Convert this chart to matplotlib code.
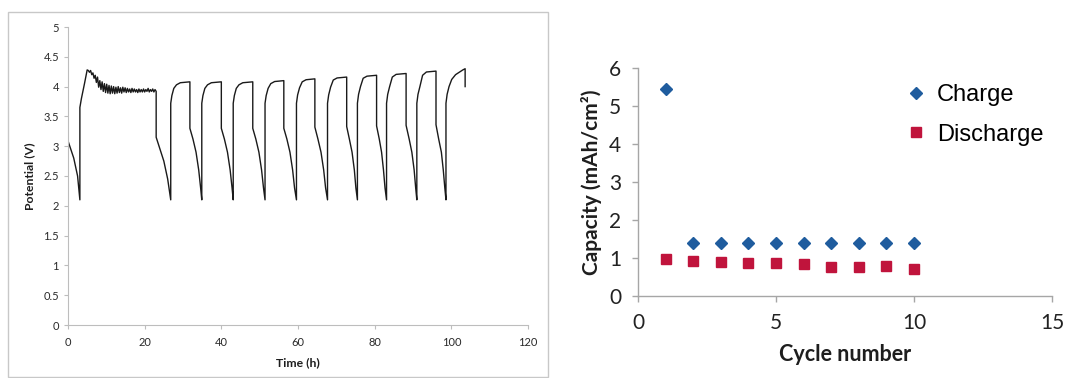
import matplotlib
matplotlib.use("Agg")
import matplotlib.pyplot as plt
from matplotlib.patches import Rectangle

# Potencial x tempo (painel da esquerda)
tempo_h = [
    0.0, 0.05, 1.5, 2.5, 3.1,
    3.1, 3.5, 4.3,
    5.0, 5.3, 5.6, 5.9, 6.2, 6.5, 6.8, 7.1, 7.4, 7.7, 8.0, 8.3, 8.6, 8.9,
    9.2, 9.5, 9.8, 10.1, 10.4, 10.7, 11.0, 11.3, 11.6, 11.9, 12.2, 12.5,
    12.8, 13.1, 13.4, 13.7, 14.0, 14.3, 14.6, 14.9, 15.2, 15.5, 15.8, 16.1,
    16.4, 16.7, 17.0, 17.3, 17.6, 17.9, 18.2, 18.5, 18.8, 19.1, 19.4, 19.7,
    20.0, 20.3, 20.6, 20.9, 21.2, 21.5, 21.8, 22.1, 22.4, 22.7, 23.0,
    23.0, 24.0, 25.0, 26.0,
    26.8, 26.8, 27.1, 27.6, 28.3, 29.3, 31.8, 31.8, 32.6, 33.4, 34.1, 34.6,
    34.9, 34.9, 35.2, 35.7, 36.4, 37.4, 40.0, 40.0, 40.8, 41.6, 42.3, 42.8,
    43.1, 43.1, 43.4, 43.9, 44.6, 45.6, 48.2, 48.2, 49.0, 49.8, 50.5, 51.0,
    51.4, 51.4, 51.7, 52.2, 52.9, 53.9, 56.3, 56.3, 57.1, 57.9, 58.6, 59.1,
    59.6, 59.6, 59.9, 60.4, 61.1, 62.1, 64.4, 64.4, 65.2, 66.0, 66.7, 67.2,
    67.7, 67.7, 68.0, 68.5, 69.2, 70.2, 72.7, 72.7, 73.4, 74.1, 74.7, 75.1,
    75.5, 75.5, 75.8, 76.3, 77.0, 78.0, 80.5, 80.5, 81.2, 81.8, 82.3, 82.7,
    83.1, 83.1, 83.4, 83.9, 84.6, 85.6, 88.2, 88.2, 89.0, 89.7, 90.3, 90.7,
    91.0, 91.0, 91.3, 91.8, 92.5, 93.5, 96.0, 96.0, 96.7, 97.4, 97.9, 98.3,
    98.6, 98.6, 98.9, 99.4, 100.1, 101.1, 103.0, 103.6, 103.6,
]
potencial_v = [
    3.6, 3.08, 2.8, 2.5, 2.1,
    3.65, 3.8, 4.05,
    4.28, 4.27, 4.24, 4.27, 4.20, 4.23, 4.14, 4.19, 4.07, 4.16, 3.99, 4.10,
    3.95, 4.08, 3.92, 4.05, 3.90, 4.04, 3.89, 4.02, 3.88, 4.01, 3.89, 4.00,
    3.88, 3.99, 3.89, 4.00, 3.90, 3.98, 3.89, 3.99, 3.91, 3.98, 3.90, 3.97,
    3.91, 3.96, 3.90, 3.97, 3.91, 3.96, 3.91, 3.95, 3.90, 3.96, 3.91, 3.95,
    3.91, 3.96, 3.91, 3.95, 3.92, 3.97, 3.91, 3.95, 3.92, 3.96, 3.91, 3.95,
    3.92,
    3.15, 2.95, 2.75, 2.45,
    2.1, 3.72, 3.85, 3.97, 4.03, 4.065, 4.08, 3.3, 3.12, 2.9, 2.6, 2.3,
    2.1, 3.72, 3.85, 3.97, 4.03, 4.065, 4.08, 3.3, 3.12, 2.9, 2.6, 2.3,
    2.1, 3.72, 3.85, 3.97, 4.03, 4.065, 4.08, 3.3, 3.12, 2.9, 2.6, 2.3,
    2.1, 3.72, 3.85, 3.97, 4.05, 4.085, 4.10, 3.3, 3.12, 2.9, 2.6, 2.3,
    2.1, 3.72, 3.86, 3.98, 4.08, 4.115, 4.13, 3.32, 3.12, 2.9, 2.6, 2.3,
    2.1, 3.72, 3.86, 3.99, 4.11, 4.145, 4.16, 3.33, 3.12, 2.9, 2.6, 2.3,
    2.1, 3.72, 3.87, 4.0, 4.14, 4.175, 4.19, 3.34, 3.12, 2.9, 2.6, 2.3,
    2.1, 3.72, 3.87, 4.0, 4.16, 4.205, 4.22, 3.35, 3.12, 2.9, 2.6, 2.3,
    2.1, 3.72, 3.87, 4.0, 4.19, 4.245, 4.26, 3.36, 3.12, 2.9, 2.6, 2.3,
    2.1, 3.72, 3.87, 4.0, 4.12, 4.2, 4.28, 4.3, 4.0,
]

# Capacidade por ciclo (painel da direita)
ciclos = [1, 2, 3, 4, 5, 6, 7, 8, 9, 10]
carga = [5.45, 1.4, 1.4, 1.4, 1.4, 1.4, 1.4, 1.4, 1.4, 1.4]
descarga = [0.97, 0.92, 0.90, 0.87, 0.87, 0.84, 0.76, 0.76, 0.79, 0.72]

W, H = 1065, 378
fig = plt.figure(figsize=(W / 100, H / 100), dpi=100)

# moldura cinza do painel da esquerda
fig.patches.append(Rectangle((8 / W, 1 - 377 / H), 540 / W, 365 / H,
                             transform=fig.transFigure, fill=False,
                             edgecolor="#c8c8c8", linewidth=1.0))

ax1 = fig.add_axes([68 / W, 1 - 325 / H, 460 / W, 298 / H])
ax1.plot(tempo_h, potencial_v, color="#1a1a1a", linewidth=1.0)
ax1.set_xlim(0, 120)
ax1.set_ylim(0, 5)
ax1.set_xticks([0, 20, 40, 60, 80, 100, 120])
ax1.set_yticks([0, 0.5, 1, 1.5, 2, 2.5, 3, 3.5, 4, 4.5, 5])
ax1.set_yticklabels(["0", "0.5", "1", "1.5", "2", "2.5", "3", "3.5", "4", "4.5", "5"])
for s in ["top", "right"]:
    ax1.spines[s].set_visible(False)
for s in ["left", "bottom"]:
    ax1.spines[s].set_color("#bdbdbd")
    ax1.spines[s].set_linewidth(0.8)
ax1.tick_params(colors="#bdbdbd", labelcolor="#2a2a2a", labelsize=8,
                length=3, width=0.8, direction="out")
ax1.tick_params(axis="x", pad=6)
for lab in ax1.get_xticklabels() + ax1.get_yticklabels():
    lab.set_family("Lato")
ax1.set_xlabel("Time (h)", fontsize=8.8, fontweight="bold", family="Lato",
               color="#1e1e1e", labelpad=6)
ax1.set_ylabel("Potential (V)", fontsize=8.8, fontweight="bold", family="Lato",
               color="#1e1e1e", labelpad=6)

ax2 = fig.add_axes([638 / W, 1 - 296 / H, 414 / W, 228 / H])
ax2.plot(ciclos, carga, linestyle="none", marker="D", markersize=6,
         color="#1f5c9e", label="Charge")
ax2.plot(ciclos, descarga, linestyle="none", marker="s", markersize=7,
         color="#c0143c", label="Discharge")
ax2.set_xlim(0, 15)
ax2.set_ylim(0, 6)
ax2.set_xticks([0, 5, 10, 15])
ax2.set_yticks([0, 1, 2, 3, 4, 5, 6])
for s in ["top", "right"]:
    ax2.spines[s].set_visible(False)
for s in ["left", "bottom"]:
    ax2.spines[s].set_color("#a6a6a6")
    ax2.spines[s].set_linewidth(1.0)
ax2.tick_params(colors="#a6a6a6", labelcolor="#222222", labelsize=15,
                length=4, width=1.0, direction="out", pad=8)
for lab in ax2.get_xticklabels() + ax2.get_yticklabels():
    lab.set_family("Lato")
ax2.set_xlabel("Cycle number", fontsize=15.5, fontweight="bold", family="Lato",
               color="#1e1e1e", labelpad=8)
ax2.set_ylabel("Capacity (mAh/cm²)", fontsize=15, fontweight="bold",
               family="Lato", color="#1e1e1e", labelpad=5)
leg = ax2.legend(loc="upper left", bbox_to_anchor=(904 / W, 1 - 84 / H),
                 bbox_transform=fig.transFigure, frameon=False,
                 borderpad=0, borderaxespad=0,
                 prop={"family": "Liberation Sans", "size": 17},
                 handletextpad=0.4, labelspacing=0.75, handlelength=1.0)

fig.savefig("out.png", dpi=100)
